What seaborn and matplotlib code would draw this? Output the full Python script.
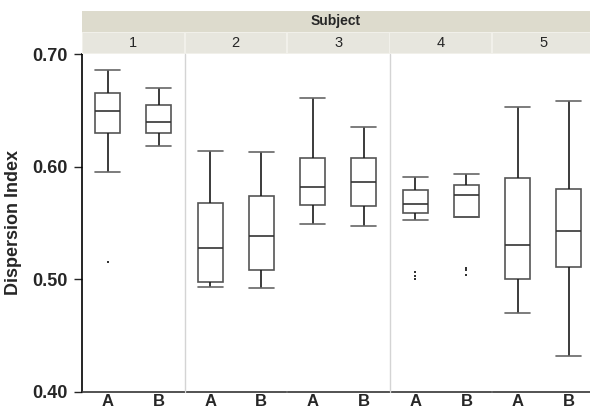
import pandas as pd
import seaborn as sns
import matplotlib.pyplot as plt
from matplotlib.patches import Rectangle
from matplotlib.lines import Line2D

# Five-number summaries, order: 1A, 1B, 2A, 2B, ... 5B
subjects = ["1", "2", "3", "4", "5"]
groups = ["A", "B"]
whisker_low = [0.595, 0.618, 0.493, 0.492, 0.549, 0.547, 0.552, 0.555, 0.470, 0.432]
q1 = [0.630, 0.630, 0.497, 0.508, 0.566, 0.565, 0.559, 0.555, 0.500, 0.511]
median = [0.649, 0.640, 0.528, 0.538, 0.582, 0.586, 0.567, 0.575, 0.530, 0.543]
q3 = [0.665, 0.655, 0.568, 0.574, 0.608, 0.608, 0.579, 0.584, 0.590, 0.580]
whisker_high = [0.686, 0.670, 0.614, 0.613, 0.661, 0.635, 0.591, 0.593, 0.653, 0.658]

# Outlier points
out_subject = ["1", "4", "4", "4", "4", "4", "4"]
out_group = ["A", "A", "A", "A", "B", "B", "B"]
out_value = [0.515, 0.506, 0.503, 0.500, 0.510, 0.508, 0.504]

# Long table: each box gets its five summary values so quartiles come out exact
rows = []
i = 0
for s in subjects:
    for g in groups:
        for v in (whisker_low[i], q1[i], median[i], q3[i], whisker_high[i]):
            rows.append({"Subject": s, "Group": g, "value": v})
        i += 1
df = pd.DataFrame(rows)
outliers = pd.DataFrame({"Subject": out_subject, "Group": out_group, "value": out_value})

sns.set_style("white")
plt.rcParams["font.family"] = ["Liberation Sans", "DejaVu Sans"]

fig = plt.figure(figsize=(5.9, 4.11), dpi=100)
axes = fig.subplots(1, 5, sharey=True)
W, H = 590, 411
left, right, top, bottom = 82, 594.5, 54, 391.5
fig.subplots_adjust(left=left / W, right=right / W, top=1 - top / H, bottom=1 - bottom / H, wspace=0)

box_col = "#555555"
for ax, s in zip(axes, subjects):
    sub = df[df["Subject"] == s]
    sns.boxplot(data=sub, x="Group", y="value", order=groups, ax=ax,
                whis=(0, 100), width=0.49, color="white", saturation=1,
                linecolor=box_col, linewidth=1.2,
                whiskerprops=dict(color="#1a1a1a"),
                capprops=dict(color="#666666"),
                medianprops=dict(color="#333333"))
    o = outliers[outliers["Subject"] == s]
    if len(o):
        sns.stripplot(data=o, x="Group", y="value", order=groups, ax=ax,
                      jitter=False, marker="s", size=1.6, color="#333333")
    # caps as wide as the boxes
    for ln in ax.lines:
        xd = list(ln.get_xdata())
        yd = list(ln.get_ydata())
        if len(xd) == 2 and yd[0] == yd[1] and abs(xd[1] - xd[0]) < 0.3:
            c = (xd[0] + xd[1]) / 2
            ln.set_xdata([c - 0.245, c + 0.245])
    ax.set_xlim(-0.5, 1.5)
    ax.set_ylim(0.40, 0.70)
    ax.set_xlabel("")
    ax.set_ylabel("")
    for side in ("top", "right", "left"):
        ax.spines[side].set_visible(False)
    ax.spines["bottom"].set_color("#444444")
    ax.spines["bottom"].set_linewidth(1.3)
    ax.spines["bottom"].set_bounds(-0.49, 1.49)
    ax.tick_params(axis="x", length=0, pad=2, labelsize=12)
    for t in ax.get_xticklabels():
        t.set_fontweight("bold")
    ax.tick_params(axis="y", left=False)

ax0 = axes[0]
ax0.spines["left"].set_visible(True)
ax0.spines["left"].set_color("black")
ax0.spines["left"].set_linewidth(1.2)
ax0.set_yticks([0.40, 0.50, 0.60, 0.70])
ax0.set_yticklabels(["0.40", "0.50", "0.60", "0.70"], fontweight="bold")
ax0.tick_params(axis="y", left=True, length=6, width=1, direction="out", labelsize=13, pad=4)
ax0.set_ylabel("Dispersion Index", fontsize=13, fontweight="bold", labelpad=8)

# light separators between panels 1|2 and 3|4
for xp in (184.5, 389.5):
    fig.add_artist(Line2D([xp / W, xp / W], [1 - bottom / H, 1 - top / H],
                          color="#d4d4d4", lw=1))

# header bands
band_top, band_mid = 11, 32
fig.add_artist(Rectangle((left / W, 1 - band_mid / H), (W - left) / W, (band_mid - band_top) / H,
                         facecolor="#dddbcd", edgecolor="none"))
fig.add_artist(Rectangle((left / W, 1 - top / H), (W - left) / W, (top - band_mid) / H,
                         facecolor="#f1f0ea", edgecolor="none"))
fig.text((left + W) / 2 / W, 1 - (band_top + band_mid) / 2 / H, "Subject",
         ha="center", va="center", fontsize=10, fontweight="bold")
pw = (right - left) / 5
for k, s in enumerate(subjects):
    x0 = left + k * pw + 1
    fig.add_artist(Rectangle((x0 / W, 1 - (top - 1) / H), (pw - 2) / W, (top - band_mid - 2) / H,
                             facecolor="#e7e6de", edgecolor="none"))
    fig.text((left + k * pw + pw / 2) / W, 1 - (band_mid + top) / 2 / H, s,
             ha="center", va="center", fontsize=10.5)

plt.savefig("out.png", dpi=100)
